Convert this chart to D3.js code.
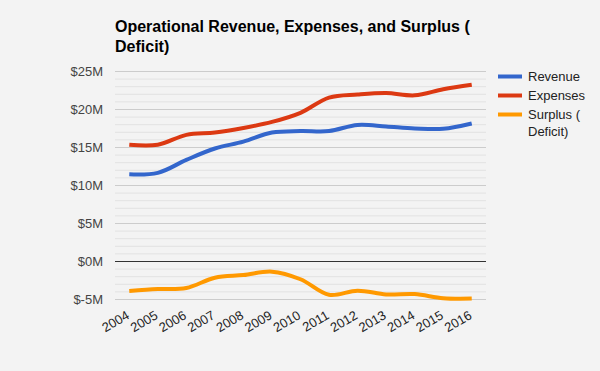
<!DOCTYPE html>
<html lang="en">
<head>
  <meta charset="UTF-8">
  <title>Operational Revenue, Expenses, and Surplus</title>
  <script src="https://d3js.org/d3.v7.min.js"></script>
  <style>
    body { margin: 0; background: #f3f3f3; }
    svg { font-family: Arial, "Liberation Sans", sans-serif; display: block; }
  </style>
</head>
<body>
  <svg width="600" height="371"></svg>
  <script>
    // data (millions of dollars)
    const years = ["2004","2005","2006","2007","2008","2009","2010","2011","2012","2013","2014","2015","2016"];
    const revenue  = [11.4, 11.6, 13.3, 14.8, 15.7, 16.9, 17.1, 17.1, 17.9, 17.7, 17.45, 17.4, 18.1];
    const expenses = [15.3, 15.3, 16.6, 16.9, 17.5, 18.3, 19.5, 21.5, 21.9, 22.1, 21.8, 22.6, 23.2];
    const surplus  = [-3.95, -3.7, -3.55, -2.2, -1.85, -1.4, -2.4, -4.45, -3.9, -4.4, -4.35, -4.9, -4.95];
    const yTicks = [-5, 0, 5, 10, 15, 20, 25];

    const series = [
      { name: "Revenue", values: revenue, color: "#3366cc", label: ["Revenue"] },
      { name: "Expenses", values: expenses, color: "#dc3912", label: ["Expenses"] },
      { name: "Surplus ( Deficit)", values: surplus, color: "#ff9900", label: ["Surplus (", "Deficit)"] }
    ];

    const svg = d3.select("svg");
    const plotLeft = 115, plotRight = 486, plotTop = 71, plotBottom = 299;

    svg.append("rect").attr("width", 600).attr("height", 371).attr("fill", "#f3f3f3");

    svg.append("text")
      .attr("x", 115).attr("y", 32)
      .attr("font-size", 16).attr("font-weight", "bold").attr("fill", "#000")
      .selectAll("tspan")
      .data(["Operational Revenue, Expenses, and Surplus (", "Deficit)"])
      .join("tspan")
      .attr("x", 115)
      .attr("dy", (d, i) => i ? 20 : 0)
      .text(d => d);

    const x = d3.scaleBand().domain(years).range([plotLeft, plotRight]);
    const y = d3.scaleLinear().domain([-5, 25]).range([plotBottom, plotTop]);

    // minor grid (every $1M)
    svg.append("g").selectAll("line")
      .data(d3.range(-5, 26, 1).filter(v => v % 5 !== 0))
      .join("line")
      .attr("x1", plotLeft).attr("x2", plotRight)
      .attr("y1", d => y(d) + 0.5).attr("y2", d => y(d) + 0.5)
      .attr("stroke", "#e2e2e2").attr("stroke-width", 1);

    // major grid
    svg.append("g").selectAll("line")
      .data(yTicks)
      .join("line")
      .attr("x1", plotLeft).attr("x2", plotRight)
      .attr("y1", d => y(d) + 0.5).attr("y2", d => y(d) + 0.5)
      .attr("stroke", d => d === 0 ? "#333" : "#cccccc").attr("stroke-width", 1);

    // y axis labels
    svg.append("g").selectAll("text")
      .data(yTicks)
      .join("text")
      .attr("x", 103).attr("y", d => y(d))
      .attr("dy", "0.36em")
      .attr("text-anchor", "end")
      .attr("font-size", 13).attr("fill", "#444")
      .text(d => "$" + d + "M");

    // x axis labels, rotated
    svg.append("g").selectAll("text")
      .data(years)
      .join("text")
      .attr("transform", d => `translate(${x(d) + x.bandwidth() / 2 + 1},${plotBottom + 19}) rotate(-30)`)
      .attr("text-anchor", "end")
      .attr("font-size", 13).attr("fill", "#222")
      .text(d => d);

    const line = d3.line()
      .x((d, i) => x(years[i]) + x.bandwidth() / 2)
      .y(d => y(d))
      .curve(d3.curveCatmullRom.alpha(0.5));

    svg.append("g").selectAll("path")
      .data(series)
      .join("path")
      .attr("d", d => line(d.values))
      .attr("fill", "none")
      .attr("stroke", d => d.color)
      .attr("stroke-width", 4)
      .attr("stroke-linejoin", "round");

    // legend
    const legend = svg.append("g").selectAll("g")
      .data(series)
      .join("g")
      .attr("transform", (d, i) => `translate(498,${76.5 + i * 19})`);

    legend.append("line")
      .attr("x1", 0).attr("x2", 24)
      .attr("stroke", d => d.color).attr("stroke-width", 4);

    legend.append("text")
      .attr("font-size", 13).attr("fill", "#222")
      .selectAll("tspan")
      .data(d => d.label)
      .join("tspan")
      .attr("x", 30)
      .attr("y", (d, i) => i * 17)
      .attr("dy", "0.36em")
      .text(d => d);
  </script>
</body>
</html>
